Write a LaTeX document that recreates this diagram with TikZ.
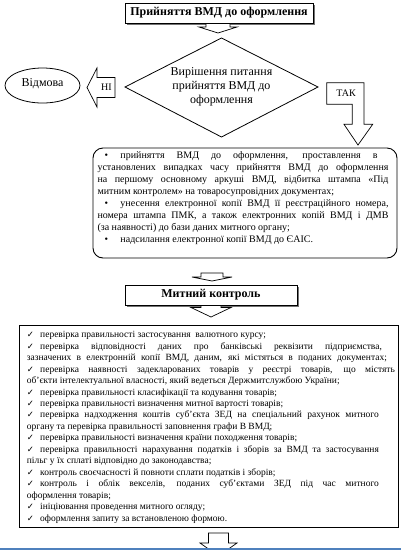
\documentclass[tikz,border=0pt]{standalone}
\usepackage{fontspec}
\setmainfont{Liberation Serif}
\newfontfamily\symfont{DejaVu Sans}
\usetikzlibrary{shapes.geometric,shadows}
\definecolor{lineblue}{RGB}{79,129,189}
\newcommand{\jl}[2]{\hbox to #1pt{#2}}
\newcommand{\nl}[1]{\hbox{#1}}
\newcommand{\ck}{\makebox[13.3pt][l]{\symfont\fontsize{8.5}{9}\selectfont ✓}}
\newcommand{\bul}{\hspace{7pt}\makebox[16pt][l]{•}}
\newcommand{\blockdown}[6]{\draw[arrowshape] (#1-#3,#2) -- (#1-#3,#4) -- (#1-#5,#4) -- (#1,#6) -- (#1+#5,#4) -- (#1+#3,#4) -- (#1+#3,#2) -- cycle;}
\begin{document}
\begin{tikzpicture}[x=1pt,y=-1pt,
  titlebox/.style={draw, line width=0.9pt, fill=white, inner sep=0pt,
    font=\bfseries\fontsize{12}{14}\selectfont,
    drop shadow={shadow xshift=1.5pt, shadow yshift=-1.5pt, fill=black!55, opacity=1}},
  arrowshape/.style={draw, line width=0.7pt, fill=white, line join=miter},
  thin/.style={draw, line width=0.8pt}]
\useasboundingbox (0,0) rectangle (401,550);

% top box
\node[titlebox, minimum width=188pt, minimum height=20pt] (top) at (219,13) {Прийняття ВМД до оформлення};
\blockdown{218}{23.5}{12}{27}{19}{33}

% decision
\coordinate (dl) at (125,87);
\coordinate (dt) at (221.5,38);
\coordinate (dr) at (318,87);
\coordinate (db) at (221.5,137);
\draw[line width=0.8pt, line join=miter] (dl) -- (dt) -- (dr) -- (db) -- cycle;
\node[inner sep=0pt, align=center, font=\fontsize{12}{14}\selectfont] (dec) at (221.5,86.5) {Вирішення питання\\прийняття ВМД до\\оформлення};

% refusal
\node[ellipse, thin, minimum width=75pt, minimum height=35pt, inner sep=0pt,
  font=\fontsize{12}{14}\selectfont] (ref) at (42.5,85.5) {\raisebox{5pt}{Відмова}};

% NI arrow
\draw[arrowshape] (115,77.5) -- (97,77.5) -- (97,68) -- (87,87.5) -- (97,107) -- (97,97.5) -- (115,97.5) -- cycle;
\node[inner sep=0pt, font=\fontsize{10}{12}\selectfont] (ni) at (106.5,87.5) {НІ};

% TAK arrow
\draw[arrowshape] (326.7,82.7) -- (364,82.7) -- (364,124.3) -- (372.7,124.3) -- (358,145) -- (344,124.3) -- (352.3,124.3) -- (352.3,104.3) -- (326.7,104.3) -- cycle;
\node[inner sep=0pt, font=\fontsize{10}{12}\selectfont] (tak) at (346,93.5) {ТАК};

% info box
\node[draw, line width=0.9pt, rounded corners=10pt, minimum width=304pt, minimum height=110pt, inner sep=0pt] (info) at (245,203) {};
\node[anchor=base west, inner sep=0pt, font=\fontsize{10}{12.05}\selectfont] (infotxt) at (97.3,158.3) {\parbox[t]{291pt}{%
\jl{280}{\bul прийняття ВМД до оформлення, проставлення в}
\jl{291}{установлених випадках часу прийняття ВМД до оформлення}
\jl{291}{на першому основному аркуші ВМД, відбитка штампа «Під}
\nl{митним контролем» на товаросупровідних документах;}
\jl{291}{\bul унесення електронної копії ВМД її реєстраційного номера,}
\jl{291}{номера штампа ПМК, а також електронних копій ВМД і ДМВ}
\nl{(за наявності) до бази даних митного органу;}
\nl{\bul надсилання електронної копії ВМД до ЄАІС.}}};

\blockdown{212}{273}{11}{277}{20}{281}

% customs control
\node[titlebox, minimum width=172pt, minimum height=20pt] (cc) at (211,295) {Митний контроль};
\blockdown{211}{305.5}{10}{307.5}{20}{317}

% big box
\node[draw, line width=0.9pt, minimum width=379pt, minimum height=202pt, inner sep=0pt] (big) at (208.5,426) {};
\node[anchor=base west, inner sep=0pt, font=\fontsize{9.5}{11.46}\selectfont] (bigtxt) at (26.7,337.7) {\parbox[t]{370pt}{%
\nl{\ck перевірка правильності застосування\ \ валютного курсу;}
\jl{355}{\ck перевірка відповідності даних про банківські реквізити підприємства,}
\jl{360}{зазначених в електронній копії ВМД, даним, які містяться в поданих документах;}
\jl{368}{\ck перевірка наявності задекларованих товарів у реєстрі товарів, що містять}
\nl{об'єкти інтелектуальної власності, який ведеться Держмитслужбою України;}
\nl{\ck перевірка правильності класифікації та кодування товарів;}
\nl{\ck перевірка правильності визначення митної вартості товарів;}
\jl{352}{\ck перевірка надходження коштів суб'єкта ЗЕД на спеціальний рахунок митного}
\nl{органу та перевірка правильності заповнення графи В ВМД;}
\nl{\ck перевірка правильності визначення країни походження товарів;}
\jl{352}{\ck перевірка правильності нарахування податків і зборів за ВМД та застосування}
\nl{пільг у їх сплаті відповідно до законодавства;}
\nl{\ck контроль своєчасності й повноти сплати податків і зборів;}
\jl{352}{\ck контроль і облік векселів, поданих суб'єктами ЗЕД під час митного}
\nl{оформлення товарів;}
\nl{\ck ініціювання проведення митного огляду;}
\nl{\ck оформлення запиту за встановленою формою.}}};

\blockdown{218.5}{533}{10}{543}{18.5}{556}
\draw[lineblue, line width=2pt] (0,548.5) -- (401,548.5);
\end{tikzpicture}
\end{document}
